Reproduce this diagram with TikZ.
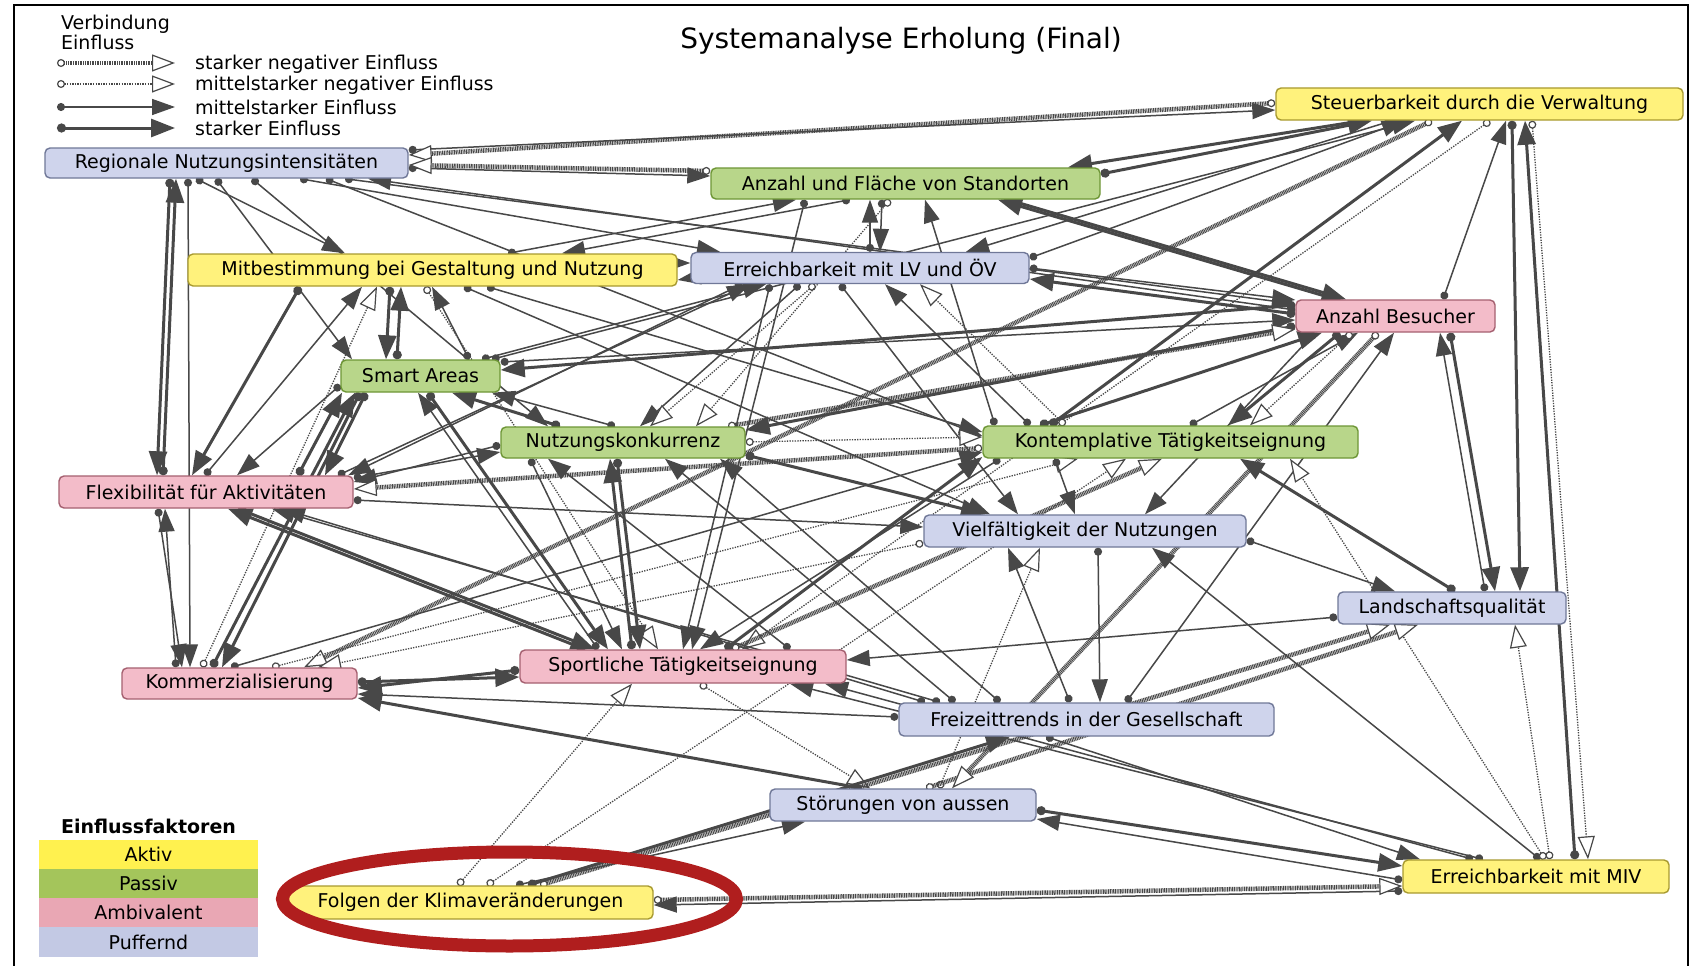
\documentclass[tikz,border=0pt]{standalone}
\usepackage{fontspec}
\setmainfont{DejaVu Sans}
\usetikzlibrary{arrows.meta}
\definecolor{ec}{HTML}{484848}
\definecolor{yfill}{HTML}{FFF27C}
\definecolor{yline}{HTML}{A89A30}
\definecolor{gfill}{HTML}{B8D68A}
\definecolor{gline}{HTML}{6E9636}
\definecolor{pfill}{HTML}{F3BCC9}
\definecolor{pline}{HTML}{A56070}
\definecolor{bfill}{HTML}{CFD4EC}
\definecolor{bline}{HTML}{707898}
\definecolor{legA}{HTML}{FFF14F}
\definecolor{legP}{HTML}{A4C55B}
\definecolor{legAm}{HTML}{E9A7B4}
\definecolor{legPu}{HTML}{C3C9E4}
\definecolor{redring}{HTML}{B01E1E}
\newcommand\nfont{\fontsize{19}{22}\selectfont}
\newcommand\edg[3]{\draw[#1] (#2) -- (#3);}
\pgfdeclarelayer{bg}
\pgfsetlayers{bg,main}
\tikzset{
  box/.style={draw, rounded corners=5pt, line width=1.4pt, inner sep=0pt, font=\nfont, text=black},
  yel/.style={box, fill=yfill, draw=yline},
  grn/.style={box, fill=gfill, draw=gline},
  pnk/.style={box, fill=pfill, draw=pline},
  blu/.style={box, fill=bfill, draw=bline},
  med/.style={draw=ec, line width=1.5pt, {Circle[length=8pt]}-{Triangle[length=23pt,width=16pt]}},
  strong/.style={draw=ec, line width=3pt, {Circle[length=9pt]}-{Triangle[length=24pt,width=18pt]}},
  negM/.style={draw=ec, line width=1.3pt, dash pattern=on 1.3pt off 1.3pt, {Circle[open,fill=white,length=8pt,line width=1.2pt]}-{Triangle[open,fill=white,length=23pt,width=17pt,line width=1.2pt]}},
  negS/.style={draw=ec, line width=4.5pt, dash pattern=on 1pt off 0.7pt, {Circle[open,fill=white,length=8pt,line width=1.2pt]}-{Triangle[open,fill=white,length=23pt,width=17pt,line width=1.2pt]}},
  legtxt/.style={font=\nfont, anchor=base west, inner sep=0pt},
  legbox/.style={minimum width=219pt, minimum height=29pt, inner sep=0pt, font=\nfont}
}
\begin{document}
\begin{tikzpicture}[x=1pt,y=-1pt]
\useasboundingbox (0,0) rectangle (1698,966);
\draw[line width=1.5pt] (14,966) -- (14,5) -- (1688,5) -- (1688,966);

\node[font=\fontsize{28}{32}\selectfont] (title) at (901,41) {Systemanalyse Erholung (Final)};

% legend top
\node[legtxt] (lv1) at (61,30) {Verbindung};
\node[legtxt] (lv2) at (61,50) {Einfluss};
\node[legtxt] (lt1) at (195,70) {starker negativer Einfluss};
\node[legtxt] (lt2) at (195,91) {mittelstarker negativer Einfluss};
\node[legtxt] (lt3) at (195,114) {mittelstarker Einfluss};
\node[legtxt] (lt4) at (195,135) {starker Einfluss};
\coordinate (la1) at (57,63); \coordinate (lb1) at (175,63);
\coordinate (la2) at (57,84); \coordinate (lb2) at (175,84);
\coordinate (la3) at (57,107); \coordinate (lb3) at (175,107);
\coordinate (la4) at (57,128); \coordinate (lb4) at (175,128);
\draw[negS] (la1) -- (lb1);
\draw[negM] (la2) -- (lb2);
\draw[med] (la3) -- (lb3);
\draw[strong] (la4) -- (lb4);

% legend bottom
\node[font=\nfont\bfseries, anchor=base, inner sep=0pt] (lgt) at (148.5,833) {Einflussfaktoren};
\node[legbox, fill=legA] (lgA) at (148.5,854.5) {Aktiv};
\node[legbox, fill=legP] (lgP) at (148.5,883.5) {Passiv};
\node[legbox, fill=legAm] (lgAm) at (148.5,912.5) {Ambivalent};
\node[legbox, fill=legPu, minimum height=30pt] (lgPu) at (148.5,942) {Puffernd};

% nodes
\node[blu, minimum width=363pt, minimum height=30pt] (reg) at (226.5,163) {Regionale Nutzungsintensitäten};
\node[yel, minimum width=407pt, minimum height=32pt] (steu) at (1479.5,104) {Steuerbarkeit durch die Verwaltung};
\node[grn, minimum width=389pt, minimum height=31pt] (anz) at (905.5,183.5) {Anzahl und Fläche von Standorten};
\node[yel, minimum width=489pt, minimum height=32pt] (mit) at (432.5,270) {Mitbestimmung bei Gestaltung und Nutzung};
\node[blu, minimum width=338pt, minimum height=31pt] (lv) at (860,268) {Erreichbarkeit mit LV und ÖV};
\node[pnk, minimum width=199pt, minimum height=32pt] (bes) at (1395.5,316) {Anzahl Besucher};
\node[grn, minimum width=159pt, minimum height=32pt] (smart) at (420.5,376) {Smart Areas};
\node[grn, minimum width=244pt, minimum height=31pt] (nk) at (623,442.5) {Nutzungskonkurrenz};
\node[grn, minimum width=375pt, minimum height=32pt] (kon) at (1170.5,442) {Kontemplative Tätigkeitseignung};
\node[pnk, minimum width=294pt, minimum height=32pt] (flex) at (206,492) {Flexibilität für Aktivitäten};
\node[blu, minimum width=322pt, minimum height=32pt] (viel) at (1085,531) {Vielfältigkeit der Nutzungen};
\node[blu, minimum width=228pt, minimum height=32pt] (land) at (1452,608) {Landschaftsqualität};
\node[pnk, minimum width=235pt, minimum height=31pt] (kom) at (239.5,683.5) {Kommerzialisierung};
\node[pnk, minimum width=326pt, minimum height=33pt] (sport) at (683,666.5) {Sportliche Tätigkeitseignung};
\node[blu, minimum width=375pt, minimum height=33pt] (frei) at (1086.5,719.5) {Freizeittrends in der Gesellschaft};
\node[blu, minimum width=266pt, minimum height=32pt] (stoer) at (903,805) {Störungen von aussen};
\node[yel, minimum width=266pt, minimum height=33pt] (miv) at (1536,876.5) {Erreichbarkeit mit MIV};
\node[yel, minimum width=365pt, minimum height=33pt] (folg) at (470.5,902.5) {Folgen der Klimaveränderungen};

\begin{pgfonlayer}{bg}
\fill[white] (0,0) rectangle (1698,966);
% top
\edg{med}{reg.east |- 0,150}{steu.west |- 0,110}
\edg{negS}{steu.west |- 0,103}{reg.east |- 0,155}
\edg{med}{reg.east |- 0,168}{anz.west |- 0,176}
\edg{negS}{anz.west |- 0,171}{reg.east |- 0,165}
\edg{strong}{anz.east |- 0,174}{steu.south -| 1372,0}
\edg{strong}{steu.south -| 1362,0}{anz.north -| 1068,0}
\edg{strong}{anz.south -| 1008,0}{bes.north -| 1346,0}
\edg{strong}{bes.north -| 1336,0}{anz.south -| 998,0}
\edg{med}{steu.south -| 1392,0}{lv.north -| 966,0}
\edg{med}{lv.east |- 0,258}{steu.south -| 1405,0}
\edg{med}{smart.north -| 492,0}{steu.south -| 1415,0}
\edg{negS}{steu.south -| 1432,0}{kom.north -| 304,0}
\edg{strong}{kon.north -| 1050,0}{steu.south -| 1462,0}
\edg{med}{bes.north -| 1443,0}{steu.south -| 1506,0}
\edg{strong}{miv.north -| 1575,0}{steu.south -| 1525,0}
\edg{strong}{steu.south -| 1512,0}{land.north -| 1520,0}
\edg{negM}{steu.south -| 1532,0}{miv.north -| 1588,0}
\edg{negM}{steu.south -| 1490,0}{sport.north -| 742,0}
% reg
\edg{strong}{reg.south -| 170,0}{flex.north -| 157,0}
\edg{strong}{flex.north -| 163,0}{reg.south -| 176,0}
\edg{med}{reg.south -| 188,0}{kom.north -| 190,0}
\edg{med}{reg.south -| 196,0}{mit.north -| 345,0}
\edg{med}{reg.south -| 216,0}{smart.north -| 352,0}
\edg{med}{reg.south -| 252,0}{nk.north -| 548,0}
\edg{med}{reg.south -| 300,0}{lv.north -| 720,0}
\edg{med}{reg.south -| 326,0}{kon.west |- 0,436}
\edg{med}{reg.south -| 345,0}{bes.west |- 0,304}
\edg{med}{bes.west |- 0,310}{reg.south -| 368,0}
% mit
\edg{med}{mit.north -| 508,0}{anz.south -| 796,0}
\edg{med}{anz.south -| 850,0}{mit.north -| 562,0}
\edg{med}{mit.east |- 0,263}{lv.west |- 0,263}
\edg{med}{lv.west |- 0,278}{mit.east |- 0,280}
\edg{med}{flex.north -| 205,0}{mit.south -| 362,0}
\edg{negM}{kom.north -| 202,0}{mit.south -| 377,0}
\edg{strong}{mit.south -| 390,0}{smart.north -| 386,0}
\edg{strong}{smart.north -| 397,0}{mit.south -| 401,0}
\edg{med}{smart.north -| 469,0}{mit.south -| 432,0}
\edg{negM}{mit.south -| 425,0}{sport.north -| 658,0}
\edg{med}{mit.south -| 464,0}{viel.north -| 990,0}
\edg{med}{mit.south -| 487,0}{kon.west |- 0,432}
\edg{strong}{mit.south -| 300,0}{flex.north -| 192,0}
% lv
\edg{med}{lv.north -| 870,0}{anz.south -| 870,0}
\edg{med}{anz.south -| 882,0}{lv.north -| 880,0}
\edg{med}{lv.east |- 0,268}{bes.west |- 0,300}
\edg{strong}{bes.west |- 0,314}{lv.east |- 0,279}
\edg{med}{flex.north -| 338,0}{lv.south -| 750,0}
\edg{med}{lv.south -| 742,0}{flex.north -| 348,0}
\edg{med}{lv.south -| 800,0}{nk.north -| 640,0}
\edg{negM}{lv.south -| 815,0}{nk.north -| 650,0}
\edg{med}{lv.south -| 770,0}{sport.north -| 683,0}
\edg{med}{anz.south -| 805,0}{sport.north -| 692,0}
\edg{med}{kon.north -| 1030,0}{lv.south -| 885,0}
\edg{negM}{kon.north -| 1065,0}{lv.south -| 920,0}
\edg{med}{lv.south -| 840,0}{viel.north -| 1018,0}
\edg{med}{kon.north -| 995,0}{anz.south -| 925,0}
\edg{negM}{anz.south -| 890,0}{nk.north -| 696,0}
% smart
\edg{strong}{bes.west |- 0,305}{smart.east |- 0,370}
\edg{med}{smart.east |- 0,362}{bes.west |- 0,320}
\edg{strong}{flex.north -| 298,0}{smart.south -| 342,0}
\edg{strong}{smart.south -| 366,0}{flex.north -| 325,0}
\edg{strong}{kom.north -| 212,0}{smart.south -| 355,0}
\edg{strong}{smart.south -| 360,0}{kom.north -| 222,0}
\edg{med}{sport.north -| 598,0}{smart.south -| 418,0}
\edg{strong}{smart.south -| 428,0}{sport.north -| 608,0}
\edg{strong}{nk.north -| 560,0}{smart.south -| 452,0}
\edg{med}{nk.north -| 615,0}{smart.south -| 492,0}
\edg{med}{smart.west |- 0,385}{flex.north -| 237,0}
\edg{med}{smart.north -| 482,0}{lv.south -| 766,0}
% nk
\edg{med}{flex.east |- 0,478}{nk.west |- 0,452}
\edg{med}{nk.west |- 0,445}{flex.east |- 0,482}
\edg{negS}{kon.west |- 0,448}{flex.east |- 0,489}
\edg{negM}{nk.east |- 0,442}{kon.west |- 0,437}
\edg{strong}{nk.east |- 0,455}{viel.north -| 985,0}
\edg{strong}{bes.west |- 0,326}{nk.east |- 0,430}
\edg{negS}{nk.north -| 728,0}{bes.west |- 0,329}
\edg{strong}{nk.south -| 617,0}{sport.north -| 640,0}
\edg{strong}{sport.north -| 632,0}{nk.south -| 610,0}
\edg{med}{nk.south -| 530,0}{sport.north -| 622,0}
\edg{med}{frei.north -| 955,0}{nk.south -| 665,0}
\edg{med}{frei.north -| 1000,0}{nk.south -| 720,0}
\edg{med}{sport.north -| 790,0}{nk.south -| 548,0}
% flex, kom, sport
\edg{med}{flex.south -| 158,0}{kom.north -| 182,0}
\edg{med}{kom.north -| 176,0}{flex.south -| 165,0}
\edg{strong}{sport.north -| 585,0}{flex.south -| 228,0}
\edg{strong}{flex.south -| 238,0}{sport.north -| 595,0}
\edg{med}{frei.north -| 940,0}{flex.south -| 272,0}
\edg{med}{frei.north -| 925,0}{flex.south -| 282,0}
\edg{med}{flex.east |- 0,500}{viel.west |- 0,527}
\edg{strong}{kom.east |- 0,682}{sport.west |- 0,677}
\edg{strong}{sport.west |- 0,670}{kom.east |- 0,688}
\edg{med}{frei.west |- 0,717}{kom.east |- 0,694}
\edg{strong}{stoer.north -| 862,0}{kom.east |- 0,698}
\edg{med}{kom.north -| 231,0}{kon.west |- 0,452}
\edg{negM}{kom.north -| 272,0}{kon.south -| 1078,0}
\edg{negM}{viel.west |- 0,543}{kom.north -| 318,0}
\edg{strong}{sport.north -| 725,0}{kon.west |- 0,457}
\edg{med}{kon.south -| 1000,0}{sport.north -| 700,0}
\edg{negS}{sport.north -| 732,0}{kon.south -| 1162,0}
\edg{med}{land.west |- 0,617}{sport.east |- 0,660}
\edg{med}{miv.north -| 1473,0}{sport.south -| 825,0}
\edg{med}{miv.north -| 1483,0}{sport.south -| 790,0}
\edg{negM}{sport.south -| 700,0}{stoer.north -| 870,0}
\edg{negM}{folg.north -| 458,0}{sport.south -| 632,0}
\edg{negM}{folg.north -| 487,0}{kon.south -| 1126,0}
% viel, frei, land, bes, kon, stoer, miv, folg
\edg{med}{viel.south -| 1098,0}{frei.north -| 1100,0}
\edg{med}{frei.north -| 1070,0}{viel.south -| 1008,0}
\edg{negM}{stoer.north -| 939,0}{viel.south -| 1040,0}
\edg{med}{miv.north -| 1540,0}{viel.south -| 1152,0}
\edg{med}{kon.south -| 1055,0}{viel.north -| 1075,0}
\edg{med}{bes.south -| 1315,0}{viel.north -| 1145,0}
\edg{med}{viel.east |- 0,540}{land.north -| 1395,0}
\edg{strong}{land.north -| 1455,0}{kon.south -| 1240,0}
\edg{strong}{kon.north -| 1040,0}{bes.south -| 1322,0}
\edg{med}{kon.north -| 1190,0}{bes.south -| 1358,0}
\edg{strong}{bes.south -| 1340,0}{kon.north -| 1228,0}
\edg{negM}{bes.south -| 1352,0}{kon.north -| 1250,0}
\edg{med}{frei.north -| 1126,0}{bes.south -| 1394,0}
\edg{strong}{bes.south -| 1450,0}{land.north -| 1495,0}
\edg{med}{land.north -| 1485,0}{bes.south -| 1440,0}
\edg{negM}{miv.north -| 1550,0}{land.south -| 1515,0}
\edg{negM}{miv.north -| 1545,0}{kon.south -| 1290,0}
\edg{negS}{folg.north -| 540,0}{land.south -| 1390,0}
\edg{negS}{stoer.north -| 926,0}{land.south -| 1418,0}
\edg{negS}{bes.south -| 1378,0}{stoer.north -| 952,0}
\edg{med}{folg.north -| 516,0}{stoer.south -| 805,0}
\edg{strong}{folg.north -| 528,0}{frei.south -| 1010,0}
\edg{strong}{stoer.east |- 0,810}{miv.west |- 0,866}
\edg{med}{miv.west |- 0,880}{stoer.east |- 0,819}
\edg{med}{frei.south -| 1046,0}{miv.north -| 1420,0}
\edg{med}{miv.west |- 0,891}{folg.east |- 0,905}
\edg{negS}{folg.east |- 0,900}{miv.west |- 0,886}
\end{pgfonlayer}

\draw[redring, line width=13pt] (509.5,899) ellipse [x radius=227, y radius=47];
\end{tikzpicture}
\end{document}
